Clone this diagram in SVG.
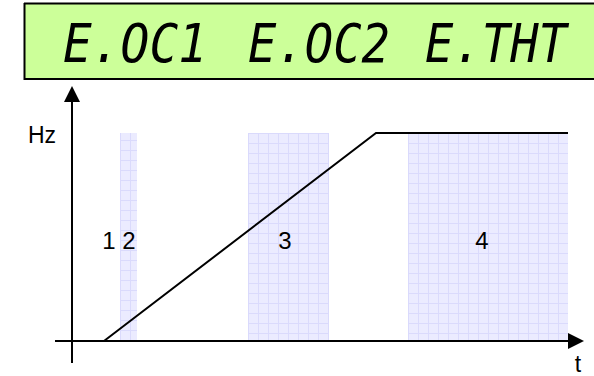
<svg xmlns="http://www.w3.org/2000/svg" width="594" height="376" viewBox="0 0 594 376">
<style>
.lbl{font-family:"Liberation Sans",Arial,sans-serif;font-size:24px;fill:#000;text-anchor:middle}
.lcd{font-family:"DejaVu Sans Mono","Liberation Mono",monospace;font-style:oblique;font-size:54px;fill:#000}
.ax{stroke:#000;stroke-width:2;fill:none}
.zone{fill:url(#grid)}
.axl{font-family:"Liberation Sans",Arial,sans-serif;font-size:23px;fill:#000}
</style>
<defs>
<pattern id="grid" patternUnits="userSpaceOnUse" width="10" height="10">
<rect width="10" height="10" fill="#ebebff"/>
<path d="M0 0.5H10M0.5 0V10" stroke="#dadafc" stroke-width="1"/>
</pattern>
</defs>
<g id="display">
<rect x="25" y="4" width="575" height="75" fill="#ccff99"/>
<path d="M24 3.5H594M24.5 3V80M24 79H594" stroke="#000" stroke-width="2" fill="none"/>
<text class="lcd" x="63" y="62" textLength="144" lengthAdjust="spacingAndGlyphs">E.OC1</text>
<text class="lcd" x="248" y="62" textLength="142" lengthAdjust="spacingAndGlyphs">E.OC2</text>
<text class="lcd" x="425" y="62" textLength="142" lengthAdjust="spacingAndGlyphs">E.THT</text>
</g>
<g id="zone1"><text class="lbl" x="109" y="249">1</text></g>
<g id="zone2"><rect class="zone" x="120" y="133" width="17" height="208"/><text class="lbl" x="129" y="249">2</text></g>
<g id="zone3"><rect class="zone" transform="translate(248,133)" width="81" height="208"/><text class="lbl" x="285" y="249">3</text></g>
<g id="zone4"><rect class="zone" transform="translate(408,133)" width="160" height="208"/><text class="lbl" x="482" y="249">4</text></g>
<g id="connectors">
<path class="ax" d="M72 363V102"/>
<path d="M64 102L72 86L80 102Z" fill="#000"/>
<path class="ax" d="M55 341H568"/>
<path d="M568 333L584 341L568 349Z" fill="#000"/>
<path class="ax" d="M104 341L376 133H568"/>
</g>
<g id="axis-labels">
<text class="axl" x="28" y="143">Hz</text>
<text class="axl" x="578" y="372" text-anchor="middle">t</text>
</g>
</svg>
